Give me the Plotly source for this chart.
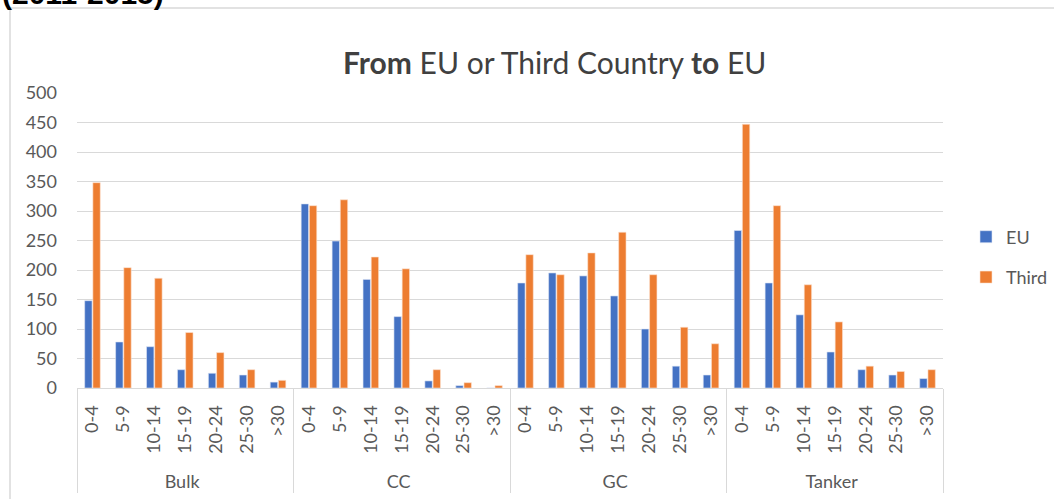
import plotly.graph_objects as go

groups = ["Bulk", "CC", "GC", "Tanker"]
ages = ["0-4", "5-9", "10-14", "15-19", "20-24", "25-30", ">30"]

eu_bulk = [148, 78, 70, 31, 25, 22, 10]
eu_cc = [312, 249, 184, 121, 12, 4, 0]
eu_gc = [178, 195, 190, 156, 100, 37, 22]
eu_tanker = [267, 178, 124, 61, 31, 22, 16]

third_bulk = [348, 204, 186, 94, 60, 31, 13]
third_cc = [309, 319, 222, 202, 31, 9, 4]
third_gc = [226, 192, 229, 264, 192, 103, 75]
third_tanker = [447, 309, 175, 112, 37, 28, 31]

eu_vals = eu_bulk + eu_cc + eu_gc + eu_tanker
third_vals = third_bulk + third_cc + third_gc + third_tanker
PAD = "\u00a0\u00a0"  # small gap between axis line and rotated labels
x_groups = [g for g in groups for _ in ages]
x_ages = [a + PAD for _ in groups for a in ages]

FONT = "Lato, 'Open Sans', sans-serif"
GRAY = "#595959"

fig = go.Figure()
fig.add_trace(go.Bar(x=[x_groups, x_ages], y=eu_vals, name="EU",
                     marker=dict(color="#4472C4", line=dict(color="#dfe6f5", width=0.6)),
                     legendgroup="a"))
fig.add_trace(go.Bar(x=[x_groups, x_ages], y=third_vals, name="Third",
                     marker=dict(color="#ED7D31", line=dict(color="#fbe2d2", width=0.6)),
                     legendgroup="b"))

L, R, T, B = 77, 111, 93, 111
W, H = 1054, 499
pw = W - L - R
ph = H - T - B

def px_x(p):
    return (p - L) / pw

def px_y(p):
    return (H - B - p) / ph

fig.update_layout(
    width=W, height=H,
    margin=dict(l=L, r=R, t=T, b=B, autoexpand=False),
    paper_bgcolor="white", plot_bgcolor="white",
    barmode="group", bargap=0.47, bargroupgap=0.1,
    font=dict(family=FONT, color=GRAY, size=18),
    showlegend=True,
    legend=dict(x=px_x(966), y=px_y(257), xanchor="left", yanchor="middle",
                font=dict(size=18, color=GRAY), tracegroupgap=14,
                itemwidth=30, bgcolor="rgba(0,0,0,0)"),
    xaxis=dict(type="multicategory", tickangle=-90, showgrid=False,
               showline=True, linecolor="#d9d9d9", linewidth=1,
               dividercolor="#d9d9d9", dividerwidth=1,
               automargin=False,
               tickfont=dict(size=18, color=GRAY)),
    yaxis=dict(range=[0, 500], dtick=50, showgrid=True, gridcolor="#d9d9d9",
               gridwidth=1, zeroline=False, showline=False,
               ticklabelstandoff=19, automargin=False,
               tickfont=dict(size=18, color=GRAY)),
    shapes=[dict(type="rect", xref="paper", yref="paper",
                 x0=px_x(10), x1=px_x(1100), y0=px_y(600), y1=px_y(8),
                 line=dict(color="#d9d9d9", width=1.5), layer="below")],
    annotations=[
        dict(text="<b>From</b> EU or Third Country <b>to</b> EU", xref="paper", yref="paper",
             x=px_x(341), y=px_y(62), xanchor="left", yanchor="middle",
             showarrow=False, font=dict(size=30, color="#404040", family=FONT)),
        dict(text="<b>(2011-2015)</b>", xref="paper", yref="paper",
             x=px_x(0), y=px_y(12), xanchor="left", yanchor="bottom",
             showarrow=False, font=dict(size=30, color="#000000", family="'Liberation Sans', Arial, sans-serif")),
    ],
)

fig.write_html("out.html", config={"displayModeBar": False},
               post_script="document.body.style.margin='0';")
